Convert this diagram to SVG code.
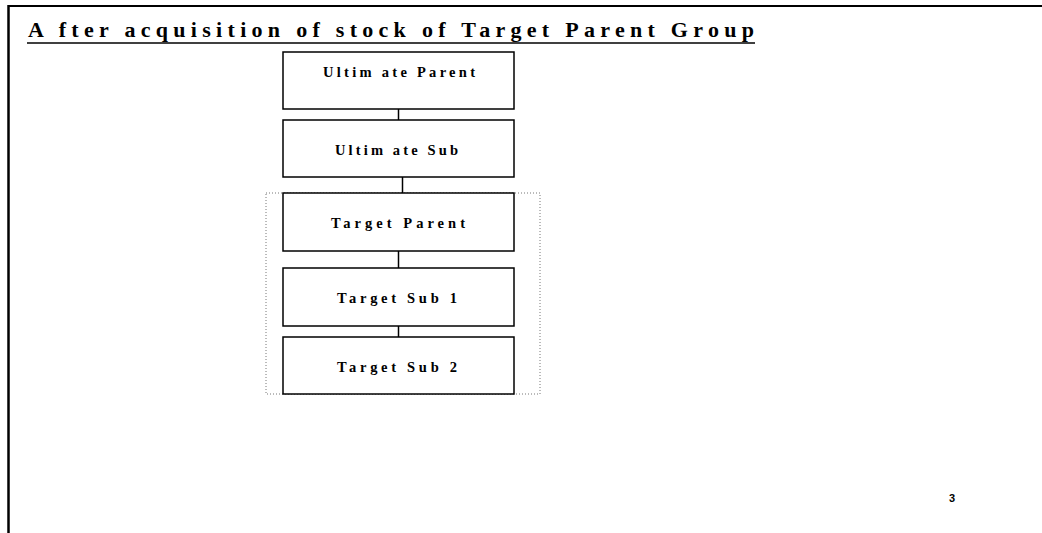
<svg xmlns="http://www.w3.org/2000/svg" width="1042" height="533" viewBox="0 0 1042 533">
  <style>
    .box { fill: #ffffff; stroke: #000000; stroke-width: 1.5; }
    .lbl { font-family: "Liberation Serif", "Times New Roman", serif; font-weight: bold; font-size: 14.5px; fill: #000000; }
    .title { font-family: "Liberation Serif", "Times New Roman", serif; font-weight: bold; font-size: 22px; fill: #000000; }
    .conn { stroke: #000000; stroke-width: 1.5; fill: none; }
    .grp { stroke: #777777; stroke-width: 1; stroke-dasharray: 1 2; fill: none; }
  </style>
  <rect x="0" y="0" width="1042" height="533" fill="#ffffff"/>
  <g id="frame">
    <line x1="8" y1="6" x2="1042" y2="6" stroke="#000000" stroke-width="2"/>
    <line x1="8.5" y1="5" x2="8.5" y2="533" stroke="#000000" stroke-width="2.5"/>
  </g>
  <g id="title">
    <text class="title" x="28" y="37" textLength="726" lengthAdjust="spacing">A fter acquisition of stock of Target Parent Group</text>
    <line x1="27" y1="43" x2="755" y2="43" stroke="#000000" stroke-width="1.5"/>
  </g>
  <g id="target-group">
    <rect class="grp" x="266" y="193" width="274" height="201"/>
  </g>
  <g id="connectors">
    <line class="conn" x1="398.5" y1="109" x2="398.5" y2="120"/>
    <line class="conn" x1="402.5" y1="177" x2="402.5" y2="193"/>
    <line class="conn" x1="398.5" y1="251" x2="398.5" y2="268"/>
    <line class="conn" x1="398.5" y1="326" x2="398.5" y2="337"/>
  </g>
  <g id="ultimate-parent">
    <rect class="box" x="283" y="52" width="231" height="57"/>
    <text class="lbl" x="323" y="77" textLength="152" lengthAdjust="spacing">Ultim ate Parent</text>
  </g>
  <g id="ultimate-sub">
    <rect class="box" x="283" y="120" width="231" height="57"/>
    <text class="lbl" x="335" y="155" textLength="123" lengthAdjust="spacing">Ultim ate Sub</text>
  </g>
  <g id="target-parent">
    <rect class="box" x="283" y="193" width="231" height="58"/>
    <text class="lbl" x="331" y="228" textLength="134" lengthAdjust="spacing">Target Parent</text>
  </g>
  <g id="target-sub-1">
    <rect class="box" x="283" y="268" width="231" height="58"/>
    <text class="lbl" x="337" y="303" textLength="120" lengthAdjust="spacing">Target Sub 1</text>
  </g>
  <g id="target-sub-2">
    <rect class="box" x="283" y="337" width="231" height="57"/>
    <text class="lbl" x="337" y="372" textLength="120" lengthAdjust="spacing">Target Sub 2</text>
  </g>
  <g id="page-number">
    <text x="949" y="502" font-family="Liberation Sans, Arial, sans-serif" font-weight="bold" font-size="11" fill="#000000">3</text>
  </g>
</svg>
